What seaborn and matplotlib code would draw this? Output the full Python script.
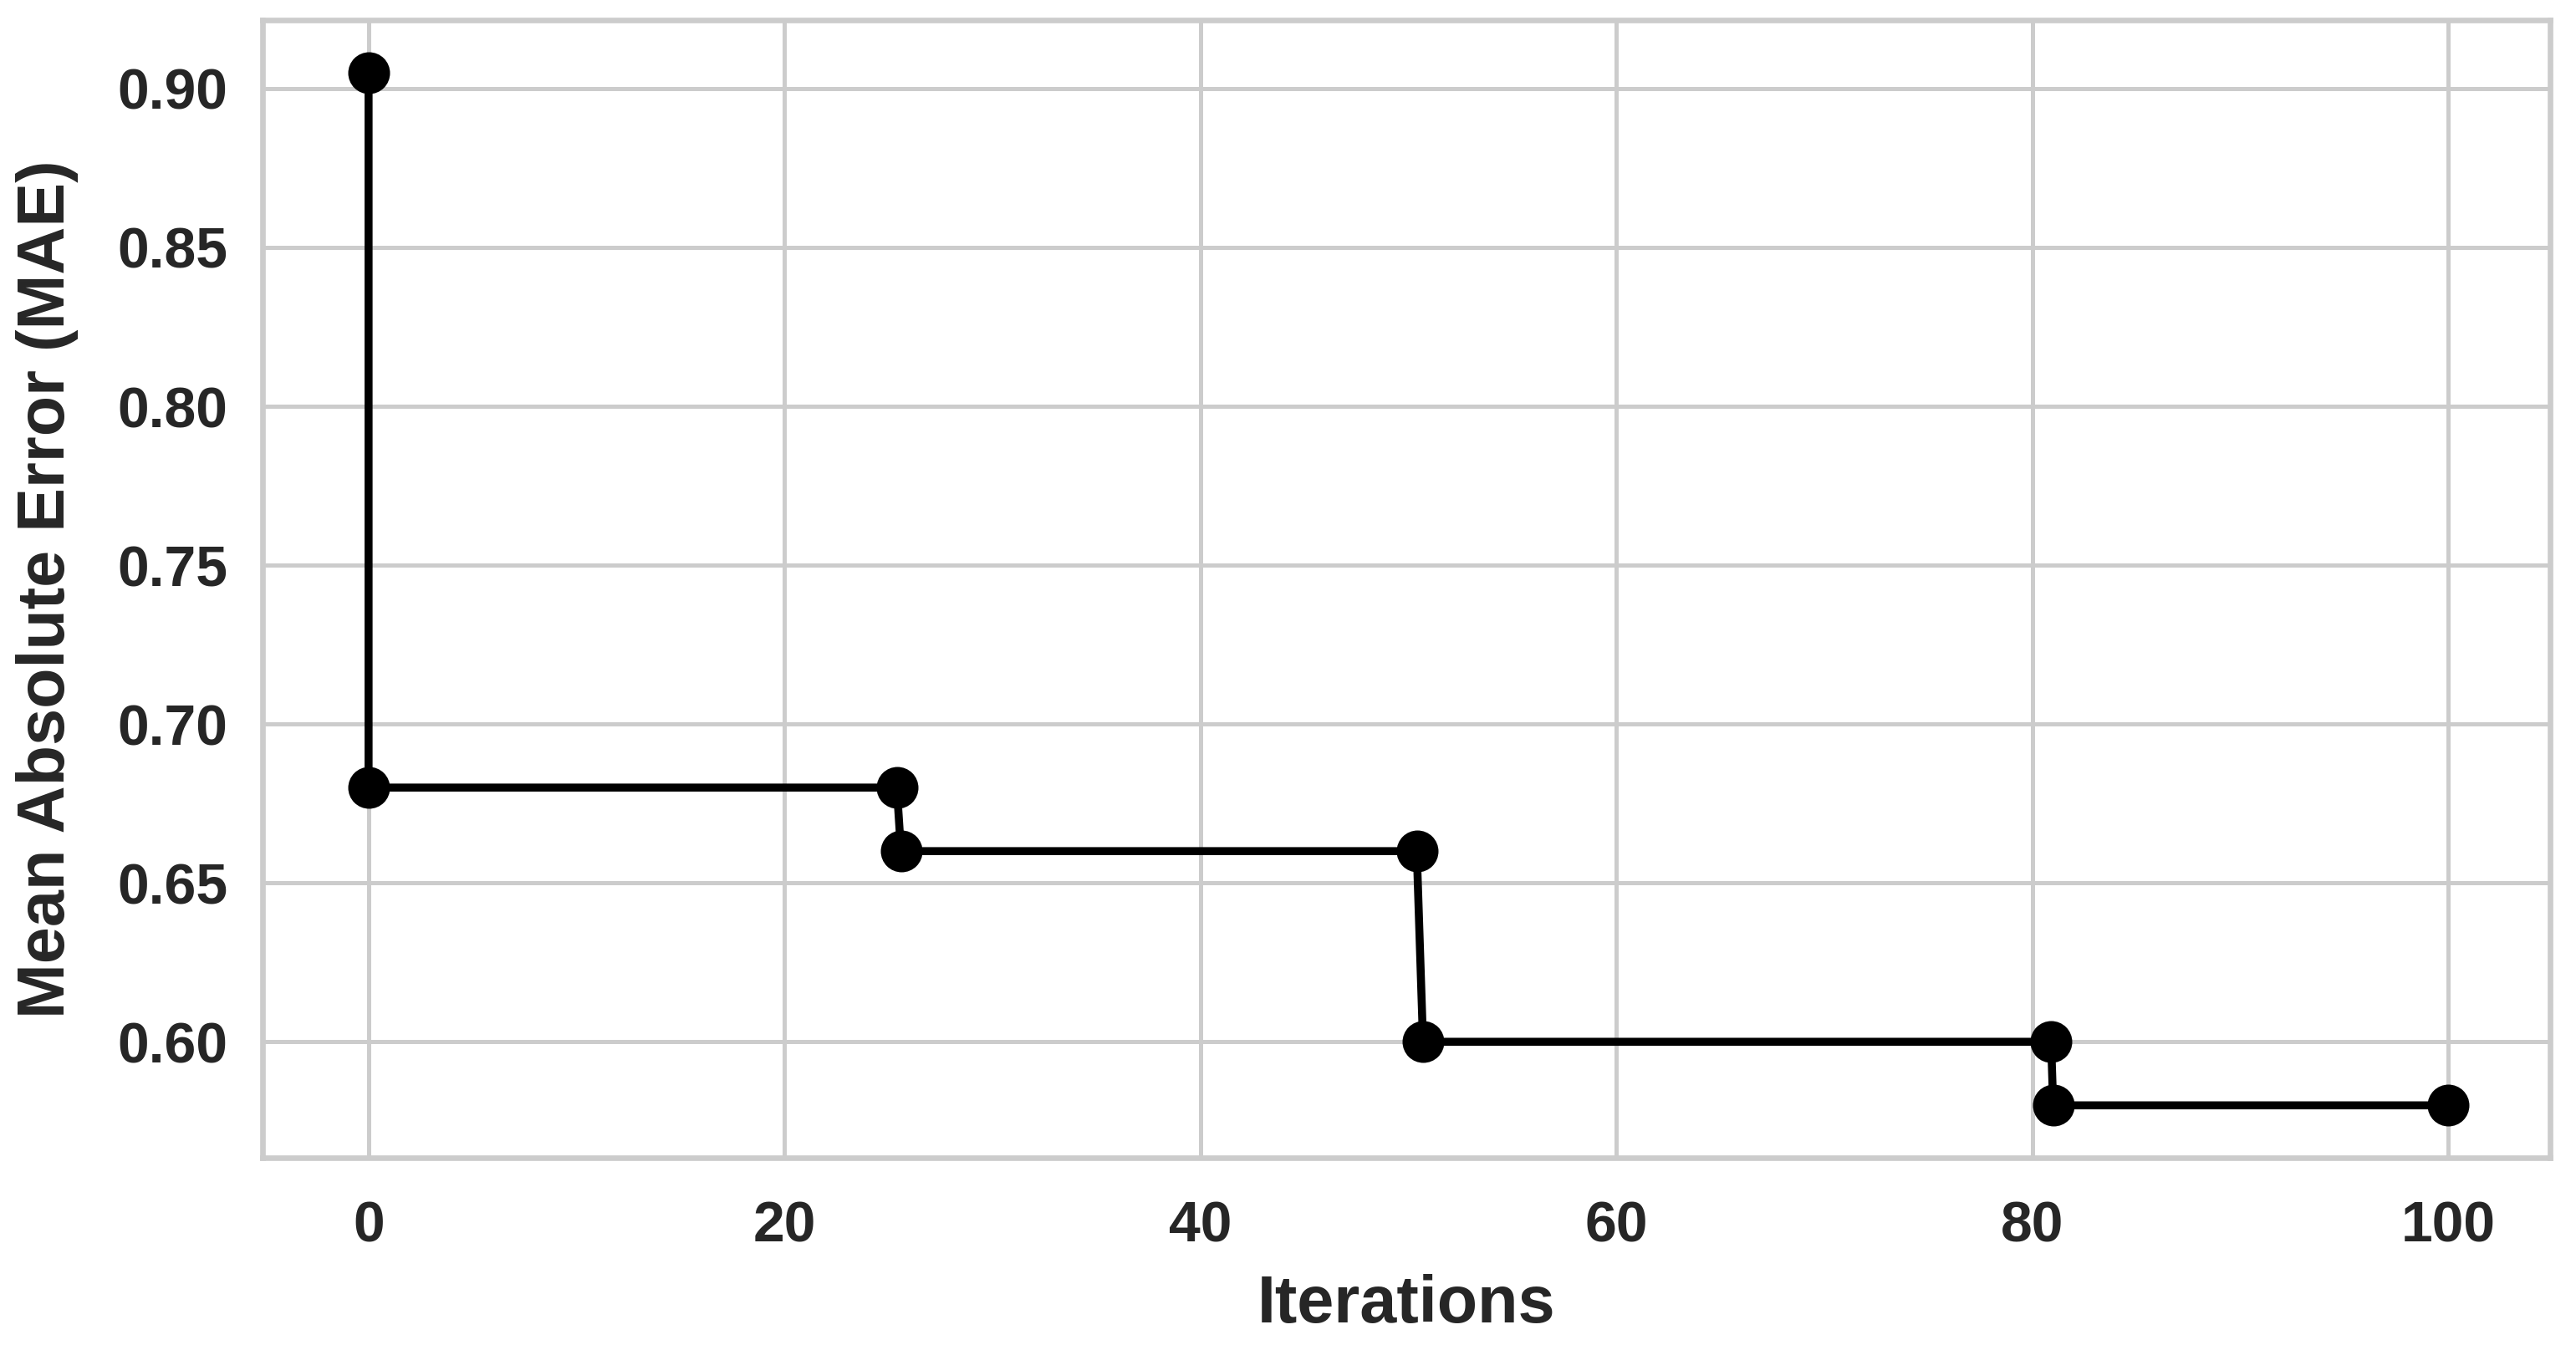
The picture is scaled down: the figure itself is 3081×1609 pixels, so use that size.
import matplotlib
matplotlib.use("Agg")
import matplotlib.pyplot as plt
import seaborn as sns
import pandas as pd

iterations = [0, 0, 25.4, 25.6, 50.4, 50.7, 80.9, 81.0, 100]
mae = [0.905, 0.68, 0.68, 0.66, 0.66, 0.60, 0.60, 0.58, 0.58]
y_ticks = [0.60, 0.65, 0.70, 0.75, 0.80, 0.85, 0.90]
x_ticks = [0, 20, 40, 60, 80, 100]

sns.set_theme(style="whitegrid")
plt.rcParams['font.family'] = ['Liberation Sans', 'DejaVu Sans']

df = pd.DataFrame({"Iterations": iterations, "MAE": mae})

fig = plt.figure(figsize=(3081 / 300, 1609 / 300), dpi=300)
ax = fig.add_axes([0.1019, 0.1392, 0.99 - 0.1019, 0.985 - 0.1392])

sns.lineplot(data=df, x="Iterations", y="MAE", estimator=None, sort=False,
             marker="o", color="black", linewidth=2.3, markersize=12,
             markeredgewidth=0, ax=ax)

ax.set_xticks(x_ticks)
ax.set_yticks(y_ticks)
ax.set_yticklabels([f"{v:.2f}" for v in y_ticks])
ax.set_xlim(-5.1, 104.9)
ax.set_ylim(0.5635, 0.9215)

for lab in ax.get_xticklabels() + ax.get_yticklabels():
    lab.set_fontweight("bold")
    lab.set_fontsize(16.3)
    lab.set_color("#262626")
ax.tick_params(axis="both", length=0)
ax.tick_params(axis="y", pad=10)
ax.tick_params(axis="x", pad=12)

ax.set_xlabel("Iterations", fontsize=19, fontweight="bold", color="#262626", labelpad=6)
ax.set_ylabel("Mean Absolute Error (MAE)", fontsize=19, fontweight="bold", color="#262626", labelpad=11)

ax.grid(True, color="#cccccc", linewidth=1.2)
for sp in ax.spines.values():
    sp.set_color("#cccccc")
    sp.set_linewidth(1.6)

fig.savefig("out.png", dpi=300)
